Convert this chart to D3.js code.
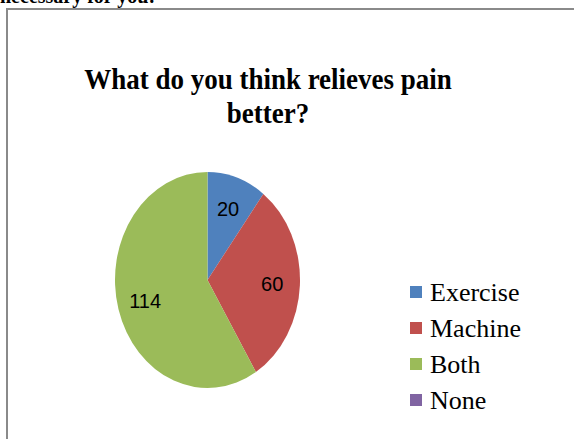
<!DOCTYPE html>
<head>
    <title>Pain relief pie</title>
    <script src='https://d3js.org/d3.v7.min.js'></script>
    <style>
        body { margin: 0; background: #fff; }
        svg { display: block; }
    </style>
</head>
<body>
    <svg></svg>
</body>

<script>
    var vWidth = 574;
    var vHeight = 439;

    // Chart data
    var categories = ['Exercise', 'Machine', 'Both', 'None'];
    var values = [20, 60, 114, 0];
    var colors = ['#4f81bd', '#c0504d', '#9bbb59', '#8064a2'];
    var titleLines = ['What do you think relieves pain', 'better?'];

    var svg = d3.select('svg').attr('width', vWidth).attr('height', vHeight);

    // Cut-off text from the page above the chart
    svg.append('text')
        .attr('x', 0).attr('y', 3)
        .style('font-family', '"Liberation Serif", "Times New Roman", serif')
        .style('font-weight', 'bold')
        .style('font-size', '20px')
        .text('necessary for you:');

    // Chart frame
    svg.append('rect')
        .attr('x', 7).attr('y', 9)
        .attr('width', 580).attr('height', 450)
        .style('fill', 'none')
        .style('stroke', '#8a8a8a')
        .style('stroke-width', 2);

    // Title
    var gTitle = svg.append('g').attr('transform', 'translate(268,0) scale(0.9,1)');
    gTitle.selectAll('text').data(titleLines).enter().append('text')
        .attr('x', 0)
        .attr('y', function (d, i) { return 89 + i * 34; })
        .attr('text-anchor', 'middle')
        .style('font-family', '"Liberation Serif", "Times New Roman", serif')
        .style('font-weight', 'bold')
        .style('font-size', '30px')
        .text(function (d) { return d; });

    // Pie (drawn as a circle, stretched into an ellipse)
    var cx = 207.5, cy = 280, ry = 108, rx = 92.5;
    var vPie = d3.pie().sort(null).value(function (d) { return d; });
    var vArc = d3.arc().innerRadius(0).outerRadius(ry);
    var vLabelArc = d3.arc().innerRadius(ry * 0.7).outerRadius(ry * 0.7);
    var vSlices = vPie(values);

    svg.append('g')
        .attr('transform', 'translate(' + cx + ',' + cy + ') scale(' + (rx / ry) + ',1)')
        .selectAll('path').data(vSlices).enter().append('path')
        .attr('d', vArc)
        .style('fill', function (d, i) { return colors[i]; });

    // Data labels
    svg.append('g')
        .selectAll('text').data(vSlices.filter(function (d) { return d.value > 0; }))
        .enter().append('text')
        .attr('x', function (d) { return cx + vLabelArc.centroid(d)[0] * rx / ry; })
        .attr('y', function (d) { return cy + vLabelArc.centroid(d)[1]; })
        .attr('dy', '0.36em')
        .attr('text-anchor', 'middle')
        .style('font-family', '"Liberation Sans", Arial, sans-serif')
        .style('font-size', '20px')
        .style('fill', '#000')
        .text(function (d) { return d.value; });

    // Legend
    var gLegend = svg.append('g').attr('transform', 'translate(410,0)');
    var vItems = gLegend.selectAll('g').data(categories).enter().append('g')
        .attr('transform', function (d, i) { return 'translate(0,' + (301 + i * 36) + ')'; });
    vItems.append('rect')
        .attr('x', 0).attr('y', -15)
        .attr('width', 12).attr('height', 12)
        .style('fill', function (d, i) { return colors[i]; });
    vItems.append('text')
        .attr('x', 20).attr('y', 0)
        .style('font-family', '"Liberation Serif", "Times New Roman", serif')
        .style('font-size', '26px')
        .text(function (d) { return d; });
</script>
